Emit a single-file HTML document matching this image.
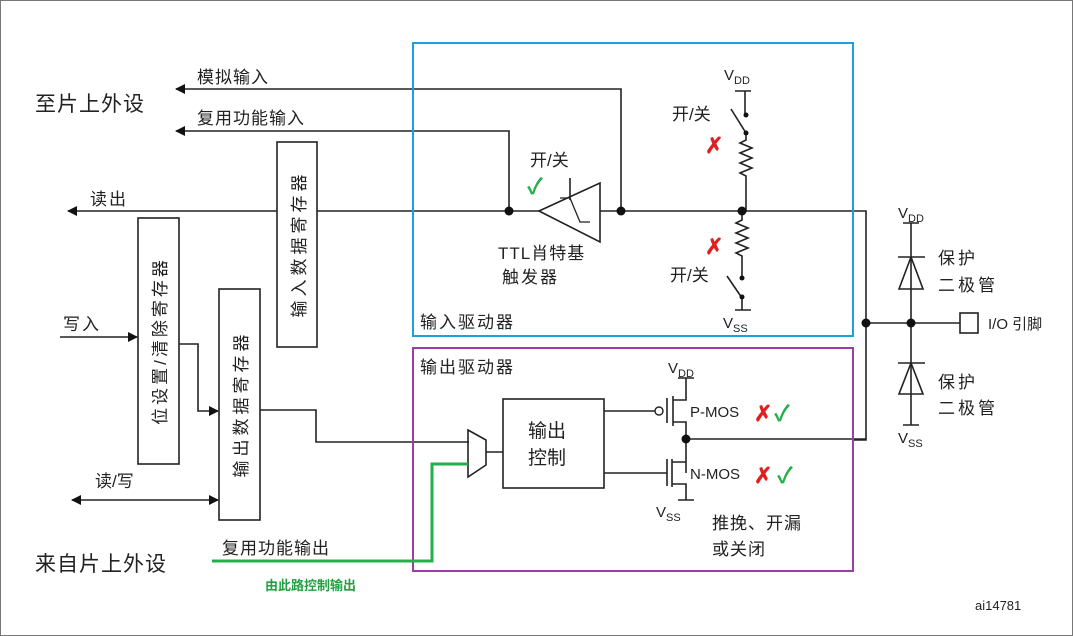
<!DOCTYPE html>
<html><head><meta charset="utf-8"><style>
body{margin:0;background:#fff}
svg{display:block}
text{font-family:"Liberation Sans","Noto Sans CJK SC",sans-serif;fill:#222}
</style></head><body>
<svg width="1073" height="636" viewBox="0 0 1073 636" xmlns="http://www.w3.org/2000/svg">
<defs>
<marker id="ar" markerWidth="10" markerHeight="10" refX="9" refY="5" orient="auto-start-reverse" markerUnits="userSpaceOnUse"><path d="M0,0 L10,5 L0,10z" fill="#111"/></marker>
</defs>
<rect x="0.5" y="0.5" width="1072" height="635" fill="#fff" stroke="#777"/>
<g stroke="#222" stroke-width="1.6" fill="none">
<path d="M621,211 V89 H176" marker-end="url(#ar)"/>
<path d="M509,211 V131 H176" marker-end="url(#ar)"/>
<path d="M539,211 H68" marker-end="url(#ar)"/>
<path d="M600,211 H866 V440 H853"/>
<rect x="277" y="142" width="40" height="205" fill="#fff"/>
<rect x="138" y="218" width="41" height="246" fill="#fff"/>
<rect x="219" y="289" width="41" height="231" fill="#fff"/>
<path d="M60,337 H137" marker-end="url(#ar)"/>
<path d="M179,344 H198 V411 H218" marker-end="url(#ar)"/>
<path d="M260,410 H316 V442 H469"/>
<path d="M72,500 H218" marker-start="url(#ar)" marker-end="url(#ar)"/>
<path d="M539,211 L600,183 L600,242 Z"/>
<path d="M570,178 V200"/>
<path d="M560,198 H570 L580,222 H590" stroke-width="1.3"/>
<path d="M735,91 H751 M745,91 V115 M731,109 L746,133 M746,133 V140 l-6,3 l12,5 l-12,5 l12,5 l-12,5 l12,5 l-12,5 l6,3 V211"/>
<path d="M742,211 V220 l-6,3 l12,5 l-12,5 l12,5 l-12,5 l12,5 l-12,5 l6,3 V278 M727,276 L742,298 M742,298 V310 M735,310 H751"/>
<path d="M903,223 H919 M911,223 V425 M903,425 H919 M898,257 H925 M898,363 H925"/>
<path d="M911,257 L899,289 H923 Z M911,363 L899,394 H923 Z"/>
<path d="M866,323 H960"/>
<rect x="960" y="313" width="18" height="20"/>
<path d="M468,430 L486,440 L486,465 L468,477 Z"/>
<path d="M486,452 H503"/>
<rect x="503" y="399" width="101" height="89"/>
<path d="M604,411 H655 M604,473 H667"/>
<path d="M667,398 V423 M673,396 V426 M673,400 H686 V378 M678,378 H694 M673,422 H686 V473 M667,459 V486 M672,459 V487 M672,462 H686 M672,484 H686 V500 M678,500 H694 M686,439 H866"/>
</g>
<circle cx="659" cy="411" r="4" fill="#fff" stroke="#222" stroke-width="1.4"/>
<g fill="#111">
<circle cx="509" cy="211" r="4.5"/><circle cx="621" cy="211" r="4.5"/><circle cx="742" cy="211" r="4.5"/>
<circle cx="746" cy="115" r="2.5"/><circle cx="746" cy="133" r="2.5"/><circle cx="742" cy="278" r="2.5"/><circle cx="742" cy="297" r="2.5"/>
<circle cx="866" cy="323" r="4.5"/><circle cx="911" cy="323" r="4.5"/><circle cx="686" cy="439" r="4.5"/>
</g>
<rect x="413" y="43" width="440" height="293" fill="none" stroke="#1ea0e0" stroke-width="2"/>
<rect x="413" y="348" width="440" height="223" fill="none" stroke="#9b3fa6" stroke-width="2"/>
<path d="M212,561 H432 V464 H468" fill="none" stroke="#22b04a" stroke-width="3"/>
<g font-size="17">
<text x="197" y="83" letter-spacing="1">模拟输入</text>
<text x="197" y="124" letter-spacing="1">复用功能输入</text>
<text x="35" y="111" font-size="21" letter-spacing="1">至片上外设</text>
<text x="90" y="205" letter-spacing="2">读出</text>
<text x="63" y="330" letter-spacing="2">写入</text>
<text x="95" y="487">读/写</text>
<text x="35" y="571" font-size="21" letter-spacing="1">来自片上外设</text>
<text x="222" y="554" letter-spacing="1">复用功能输出</text>
<text x="265" y="590" font-size="13" font-weight="bold" style="fill:#22a040">由此路控制输出</text>
<text transform="translate(305,244) rotate(-90)" text-anchor="middle" letter-spacing="4">输入数据寄存器</text>
<text transform="translate(166,341) rotate(-90)" text-anchor="middle" letter-spacing="3">位设置/清除寄存器</text>
<text transform="translate(247,404) rotate(-90)" text-anchor="middle" letter-spacing="4">输出数据寄存器</text>
<text x="530" y="166">开/关</text>
<text x="498" y="259" letter-spacing="1">TTL肖特基</text>
<text x="502" y="283" letter-spacing="2">触发器</text>
<text x="672" y="120">开/关</text>
<text x="670" y="281">开/关</text>
<text x="420" y="328" letter-spacing="2">输入驱动器</text>
<text x="420" y="373" letter-spacing="2">输出驱动器</text>
<text x="528" y="437" font-size="19">输出</text>
<text x="528" y="464" font-size="19">控制</text>
<text x="690" y="417" font-size="15">P-MOS</text>
<text x="690" y="479" font-size="15">N-MOS</text>
<text x="712" y="529" letter-spacing="1">推挽、开漏</text>
<text x="712" y="555" letter-spacing="1">或关闭</text>
<text x="938" y="264" letter-spacing="3">保护</text>
<text x="938" y="291" letter-spacing="3">二极管</text>
<text x="938" y="388" letter-spacing="3">保护</text>
<text x="938" y="414" letter-spacing="3">二极管</text>
<text x="988" y="329" font-size="15">I/O 引脚</text>
<text x="975" y="610" font-size="13">ai14781</text>
</g>
<g font-size="15">
<text x="724" y="80">V<tspan font-size="11" dy="4">DD</tspan></text>
<text x="723" y="328">V<tspan font-size="11" dy="4">SS</tspan></text>
<text x="668" y="373">V<tspan font-size="11" dy="4">DD</tspan></text>
<text x="656" y="517">V<tspan font-size="11" dy="4">SS</tspan></text>
<text x="898" y="218">V<tspan font-size="11" dy="4">DD</tspan></text>
<text x="898" y="443">V<tspan font-size="11" dy="4">SS</tspan></text>
</g>
<g font-size="22" font-weight="bold">
<text x="705" y="153" style="fill:#e02020">✗</text>
<text x="705" y="254" style="fill:#e02020">✗</text>
<text x="754" y="421" style="fill:#e02020">✗</text>
<text x="754" y="483" style="fill:#e02020">✗</text>
<text x="527" y="194" style="fill:#22b04a">✓</text>
<text x="774" y="421" style="fill:#22b04a">✓</text>
<text x="777" y="483" style="fill:#22b04a">✓</text>
</g>
</svg>
</body></html>
